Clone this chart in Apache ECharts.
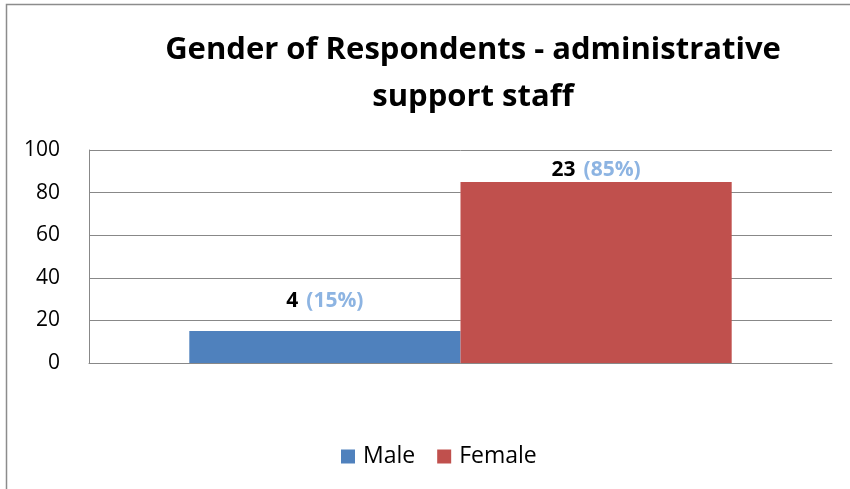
<!DOCTYPE html>
<html>
<head>
<meta charset="utf-8">
<script src="https://cdn.jsdelivr.net/npm/echarts@6/dist/echarts.min.js"></script>
<style>
  html, body { margin: 0; padding: 0; background: #fff; }
  #chart { width: 850px; height: 489px; }
</style>
</head>
<body>
<div id="chart"></div>
<script>
// Respondent gender breakdown, administrative support staff
const titleText = 'Gender of Respondents - administrative\nsupport staff';
const categories = [''];
const seriesNames = ['Male', 'Female'];
const respondentCounts = [4, 23];
const percentShares = [15, 85];
const seriesColors = ['#4F81BD', '#C0504D'];
const labelDistances = [20, 1];
const yTicks = { min: 0, max: 100, interval: 20 };

const FONT = '"Open Sans", Lato, sans-serif';

const chart = echarts.init(document.getElementById('chart'), null, { renderer: 'canvas' });

const series = seriesNames.map((name, i) => ({
  name: name,
  type: 'bar',
  barGap: '0%',
  barCategoryGap: '27%',
  itemStyle: { color: seriesColors[i] },
  data: [{
    value: percentShares[i],
    label: {
      show: true,
      position: 'top',
      distance: labelDistances[i],
      formatter: () => '{n|' + respondentCounts[i] + '}{g|}{p|(' + percentShares[i] + '%)}',
      rich: {
        n: { fontFamily: FONT, fontWeight: 'bold', fontSize: 21, color: '#000' },
        g: { width: 8 },
        p: { fontFamily: FONT, fontWeight: 'bold', fontSize: 21, color: '#8DB4E2' }
      }
    }
  }]
}));

chart.setOption({
  animation: false,
  backgroundColor: '#fff',
  title: {
    text: titleText,
    left: 468,
    textAlign: 'center',
    top: 22,
    itemGap: 0,
    textStyle: {
      fontFamily: FONT,
      fontWeight: 'bold',
      fontSize: 31,
      lineHeight: 47,
      color: '#000'
    }
  },
  legend: {
    bottom: 16,
    left: 336,
    itemWidth: 14,
    itemHeight: 14,
    itemGap: 22,
    icon: 'rect',
    textStyle: { fontFamily: FONT, fontSize: 23, color: '#000', padding: [0, 0, 0, 3] },
    data: seriesNames
  },
  grid: { left: 89, right: 18, top: 150, bottom: 126, containLabel: false },
  xAxis: {
    type: 'category',
    data: categories,
    axisLine: { show: true, lineStyle: { color: '#888', width: 1 } },
    axisTick: { show: false },
    axisLabel: { show: false }
  },
  yAxis: {
    type: 'value',
    min: yTicks.min,
    max: yTicks.max,
    interval: yTicks.interval,
    axisLine: { show: true, lineStyle: { color: '#888', width: 1 } },
    axisTick: { show: false },
    axisLabel: { margin: 29, fontFamily: FONT, fontSize: 21, color: '#000' },
    splitLine: { show: true, lineStyle: { color: '#888', width: 1 } }
  },
  graphic: [{
    type: 'rect',
    shape: { x: 6.5, y: 4.5, width: 900, height: 600 },
    style: { fill: 'none', stroke: '#8c8c8c', lineWidth: 1.5 },
    silent: true
  }],
  series: series
});
</script>
</body>
</html>
